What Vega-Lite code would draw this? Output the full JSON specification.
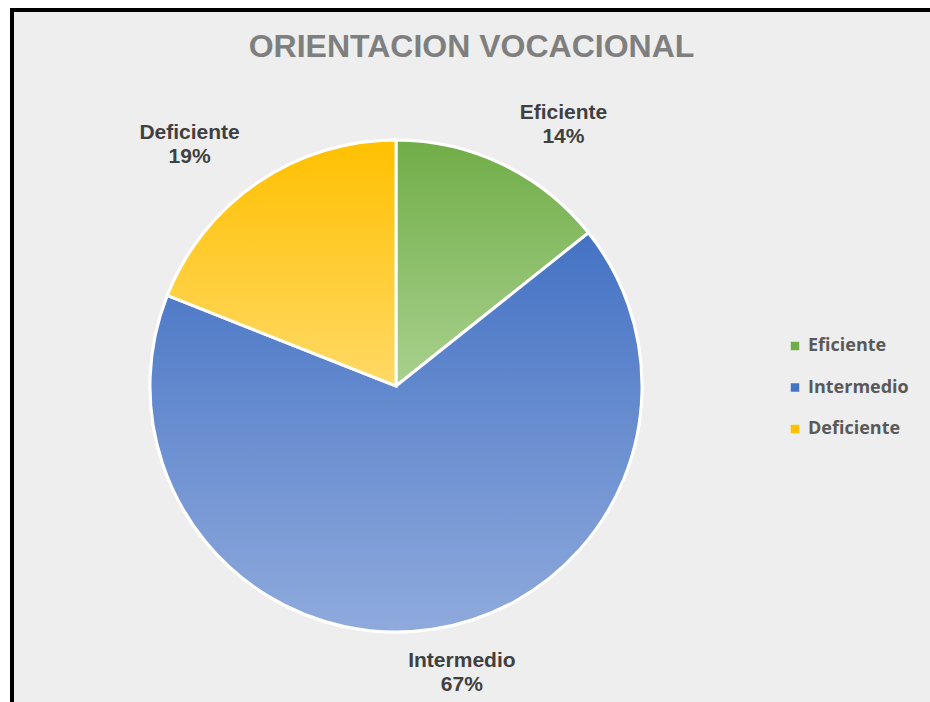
{
  "$schema": "https://vega.github.io/schema/vega-lite/v6.json",
  "width": 921,
  "height": 695,
  "autosize": {"type": "none"},
  "padding": {"left": 12, "top": 10, "right": -3, "bottom": -3},
  "background": "#ffffff",
  "view": {"fill": "#eeeeee", "stroke": "#000000", "strokeWidth": 4},
  "title": {
    "text": "ORIENTACION VOCACIONAL",
    "font": "Liberation Sans",
    "fontSize": 32,
    "fontWeight": "bold",
    "color": "#7f7f7f",
    "anchor": "middle",
    "dx": -1,
    "offset": -79,
    "baseline": "alphabetic"
  },
  "data": {
    "values": [
      {"cat": "Eficiente", "share": 0.143, "ord": 1},
      {"cat": "Intermedio", "share": 0.667, "ord": 2},
      {"cat": "Deficiente", "share": 0.19, "ord": 3}
    ]
  },
  "encoding": {
    "theta": {"field": "share", "type": "quantitative", "stack": true},
    "order": {"field": "ord", "type": "ordinal"}
  },
  "layer": [
    {
      "mark": {"type": "arc", "outerRadius": 246, "stroke": "#ffffff", "strokeWidth": 3, "x": 384, "y": 376},
      "encoding": {
        "color": {
          "field": "cat",
          "type": "nominal",
          "scale": {
            "domain": ["Eficiente", "Intermedio", "Deficiente"],
            "range": ["#70AD47", "#4472C4", "#FFC000"]
          },
          "legend": {
            "orient": "none",
            "legendX": 774,
            "legendY": 327,
            "title": null,
            "symbolType": "square",
            "symbolSize": 72,
            "symbolStrokeWidth": 0,
            "labelFont": "Open Sans",
            "labelFontWeight": "bold",
            "labelFontSize": 18,
            "labelColor": "#595959",
            "labelOffset": 4,
            "rowPadding": 23.5,
            "padding": 0
          }
        }
      }
    },
    {
      "mark": {
        "type": "arc", "outerRadius": 246, "stroke": "#ffffff", "strokeWidth": 3, "x": 384, "y": 376,
        "fill": {"expr": "datum.cat === 'Eficiente' ? {gradient: 'linear', x1: 0, y1: 0, x2: 0, y2: 1, stops: [{offset: 0, color: '#70AD47'}, {offset: 1, color: '#A9D18E'}]} : datum.cat === 'Intermedio' ? {gradient: 'linear', x1: 0, y1: 0, x2: 0, y2: 1, stops: [{offset: 0, color: '#4472C4'}, {offset: 1, color: '#8FAADC'}]} : {gradient: 'linear', x1: 0, y1: 0, x2: 0, y2: 1, stops: [{offset: 0, color: '#FFC000'}, {offset: 1, color: '#FFD966'}]}"}
      },
      "encoding": {}
    },
    {
      "mark": {
        "type": "text", "radius": 305, "x": 384, "y": 376,
        "font": "Liberation Sans", "fontWeight": "bold", "fontSize": 21, "fill": "#404040", "baseline": "middle",
        "dx": {"expr": "datum.cat === 'Eficiente' ? 35 : datum.cat === 'Intermedio' ? 21 : -35"},
        "dy": {"expr": "(datum.cat === 'Eficiente' ? 14 : datum.cat === 'Intermedio' ? -15 : 11) - 12"}
      },
      "encoding": {"text": {"field": "cat", "type": "nominal"}}
    },
    {
      "mark": {
        "type": "text", "radius": 305, "x": 384, "y": 376,
        "font": "Liberation Sans", "fontWeight": "bold", "fontSize": 21, "fill": "#404040", "baseline": "middle",
        "dx": {"expr": "datum.cat === 'Eficiente' ? 35 : datum.cat === 'Intermedio' ? 21 : -35"},
        "dy": {"expr": "(datum.cat === 'Eficiente' ? 14 : datum.cat === 'Intermedio' ? -15 : 11) + 12"}
      },
      "encoding": {"text": {"field": "share", "type": "quantitative", "format": ".0%"}}
    }
  ]
}
